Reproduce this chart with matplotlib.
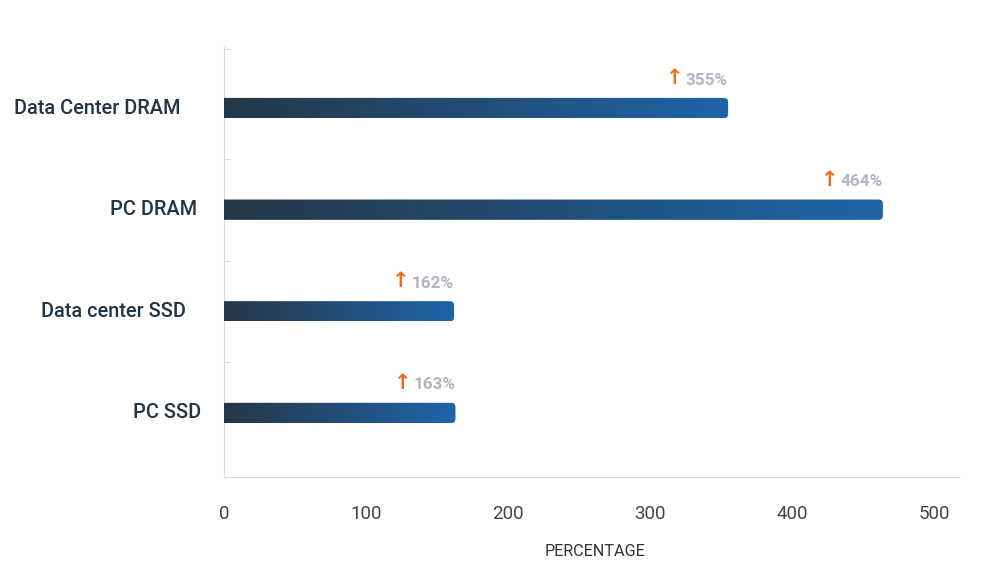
import numpy as np
import matplotlib
matplotlib.use("Agg")
import matplotlib.pyplot as plt
from matplotlib.patches import FancyBboxPatch

plt.rcParams['font.family'] = ['Roboto', 'DejaVu Sans']

# data
categories = ["Data Center DRAM", "PC DRAM", "Data center SSD", "PC SSD"]
values = [355, 464, 162, 163]
labels = ["355%", "464%", "162%", "163%"]
label_shift = [-43, -27, -38, -23]   # px offset of category label right edge
ticks = [0, 100, 200, 300, 400, 500]

fig = plt.figure(figsize=(10, 5.74), dpi=100)
ax = fig.add_axes([0.224, 0.169, 0.735, 0.749])
ax.set_xlim(0, 517.6)
ax.set_ylim(3.63, -0.6)

grad = np.linspace(0, 1, 256).reshape(1, -1)
cmap = matplotlib.colors.LinearSegmentedColormap.from_list("bar", ["#253746", "#1e65a9"])

bh = 0.2
for i, v in enumerate(values):
    patch = FancyBboxPatch((-10, i - bh / 2), v + 10, bh,
                           boxstyle="round,pad=0,rounding_size=3",
                           mutation_aspect=0.0139, linewidth=0,
                           facecolor="none", transform=ax.transData)
    ax.add_patch(patch)
    im = ax.imshow(grad, cmap=cmap, aspect="auto",
                   extent=(0, v, i + bh / 2, i - bh / 2), zorder=3)
    im.set_clip_path(patch)
    # value label
    ax.annotate(labels[i], xy=(v, i), xytext=(0, 28), textcoords="offset pixels",
                ha="right", va="center", fontsize=12.3, fontweight="bold",
                color="#b2b5c3")
    ax.annotate("\u2191", xy=(v, i), xytext=(-53, 30), textcoords="offset pixels",
                ha="center", va="center", fontsize=15, fontweight="bold",
                color="#f26b1d", family=["DejaVu Sans"])
    # category label
    ax.annotate(categories[i], xy=(0, i), xytext=(label_shift[i], 0),
                textcoords="offset pixels", ha="right", va="center",
                fontsize=14.3, fontweight="medium", color="#243447",
                annotation_clip=False)

ax.set_xticks(ticks)
ax.set_xticklabels([str(t) for t in ticks], fontsize=13.5, color="#444444")
ax.tick_params(axis="x", length=0, pad=20)
ax.set_yticks([-0.58, 0.5, 1.5, 2.5])
ax.set_yticklabels([])
ax.tick_params(axis="y", direction="in", length=4, color="#d8d8e0")

for s in ["top", "right"]:
    ax.spines[s].set_visible(False)
ax.spines["left"].set_color("#d8d8e0")
ax.spines["bottom"].set_color("#d8d8e0")

fig.text(0.595, 1 - 552 / 574, "PERCENTAGE", ha="center", va="center",
         fontsize=11.6, color="#333333")

fig.savefig("out.png", dpi=100)
